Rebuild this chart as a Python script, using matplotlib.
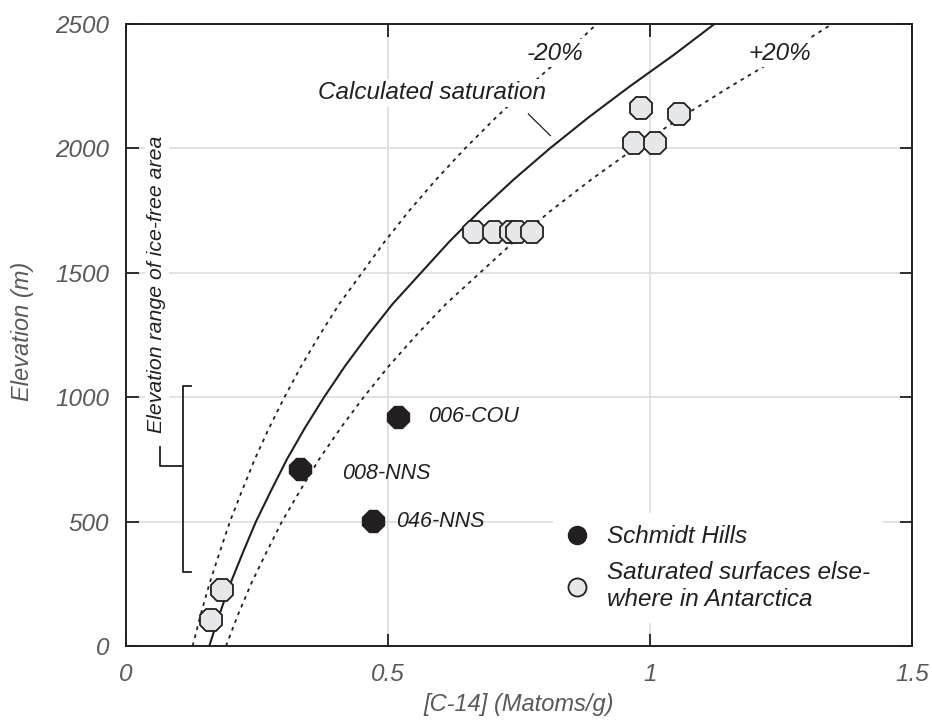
import matplotlib
matplotlib.use("Agg")
import matplotlib.pyplot as plt
from matplotlib.lines import Line2D

plt.rcParams['font.family'] = ['Liberation Sans', 'DejaVu Sans']
plt.rcParams['font.style'] = 'italic'

INK = '#231f20'
GREY_TXT = '#58595b'
FILL = '#e6e7e8'

# calculated saturation curve
elev_curve = [0, 125, 250, 375, 500, 625, 750, 875, 1000, 1125, 1250,
              1375, 1500, 1625, 1750, 1875, 2000, 2125, 2250, 2375, 2500]
sat_curve = [0.159, 0.178, 0.199, 0.223, 0.248, 0.277, 0.307, 0.341, 0.378,
             0.418, 0.462, 0.509, 0.563, 0.617, 0.676, 0.740, 0.809, 0.883,
             0.962, 1.045, 1.123]
band = 0.20

# saturated surfaces elsewhere in Antarctica
other_c14 = [0.163, 0.184, 0.665, 0.703, 0.734, 0.747, 0.774, 0.969, 1.010, 0.982, 1.055]
other_elev = [104, 225, 1665, 1665, 1665, 1665, 1665, 2020, 2020, 2161, 2137]

# Schmidt Hills samples
sh_names = ['006-COU', '008-NNS', '046-NNS']
sh_c14 = [0.520, 0.332, 0.471]
sh_elev = [922, 710, 501]
sh_offsets = [(21, 0), (30, -3), (17, 0)]

fig = plt.figure(figsize=(9.32, 7.22), dpi=100)
ax = fig.add_axes([0.1352, 0.1053, 0.8433, 0.8615])

lo = [v * (1 - band) for v in sat_curve]
hi = [v * (1 + band) for v in sat_curve]
ax.plot(sat_curve, elev_curve, color=INK, lw=1.5, zorder=2)
ax.plot(lo, elev_curve, color=INK, lw=1.3, ls=(0, (2, 2.6)), zorder=2)
ax.plot(hi, elev_curve, color=INK, lw=1.3, ls=(0, (2, 2.6)), zorder=2)

ax.plot(other_c14, other_elev, ls='none', marker='8', ms=17, mfc=FILL,
        mec=INK, mew=1.3, zorder=4)
ax.plot(sh_c14, sh_elev, ls='none', marker='8', ms=16.5, mfc=INK,
        mec=INK, mew=1.0, zorder=4)

for name, x, y, off in zip(sh_names, sh_c14, sh_elev, sh_offsets):
    ax.annotate(name, (x, y), xytext=off, textcoords='offset points',
                ha='left', va='center', fontsize=15.5, color=INK, zorder=5)

box = dict(fc='white', ec='none', pad=1.5)
ax.text(0.366, 2223, 'Calculated saturation', fontsize=17.5, color=INK,
        ha='left', va='center', bbox=box, zorder=5)
ax.plot([0.768, 0.810], [2138, 2051], color=INK, lw=0.9, zorder=3)
ax.text(0.765, 2383, '-20%', fontsize=17.5, color=INK, ha='left',
        va='center', bbox=box, zorder=5)
ax.text(1.187, 2383, '+20%', fontsize=17.5, color=INK, ha='left',
        va='center', bbox=box, zorder=5)

# elevation range bracket
ax.plot([0.1235, 0.109, 0.109, 0.1235], [1043, 1043, 299, 299],
        color=INK, lw=1.3, zorder=3)
ax.plot([0.109, 0.065, 0.065], [723, 723, 801], color=INK, lw=1.3, zorder=3)
ax.text(0.059, 855, 'Elevation range of ice-free area', rotation=90,
        fontsize=15.3, color=INK, ha='center', va='bottom', bbox=box, zorder=5)

ax.set_xlim(0, 1.5)
ax.set_ylim(0, 2500)
ax.set_xticks([0, 0.5, 1, 1.5])
ax.set_xticklabels(['0', '0.5', '1', '1.5'])
ax.set_yticks(range(0, 2501, 500))
ax.grid(True, color='#dcdddd', lw=1.2, zorder=0)
ax.set_axisbelow(True)
ax.tick_params(direction='in', length=9, width=1.3, colors=INK,
               labelcolor=GREY_TXT, labelsize=17.5, pad=12,
               top=True, right=True)
for s in ax.spines.values():
    s.set_color(INK)
    s.set_linewidth(1.4)

fig.text(23 / 932, 1 - 331 / 722, 'Elevation (m)', rotation=90, fontsize=17,
         color=GREY_TXT, ha='center', va='center')
fig.text(519 / 932, 1 - 705 / 722, '[C-14] (Matoms/g)', fontsize=17,
         color=GREY_TXT, ha='center', va='center')

handles = [
    Line2D([], [], ls='none', marker='o', ms=13, mfc=INK, mec=INK),
    Line2D([], [], ls='none', marker='o', ms=13, mfc=FILL, mec=INK, mew=1.3),
]
labels = ['Schmidt Hills', 'Saturated surfaces else-\nwhere in Antarctica']
leg = ax.legend(handles, labels, loc='upper left', bbox_to_anchor=(0.543, 0.214),
                frameon=True, fancybox=False, framealpha=1, edgecolor='none',
                fontsize=17.5, handlelength=1.0, handletextpad=0.75,
                labelspacing=0.55, borderpad=0.5, borderaxespad=0)
for t in leg.get_texts():
    t.set_color(INK)

fig.savefig('out.png', dpi=100)
